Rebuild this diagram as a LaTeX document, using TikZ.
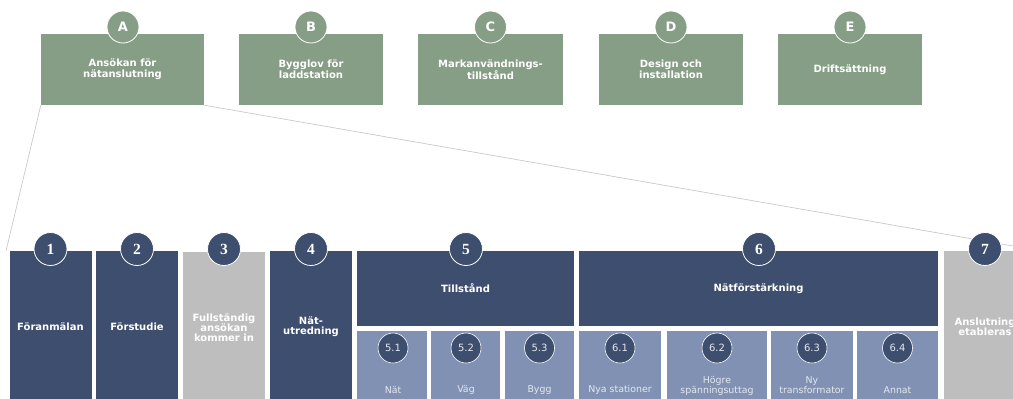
\documentclass[tikz,border=0pt]{standalone}
\usepackage{fontspec}
\setmainfont{DejaVu Sans}
\newfontfamily\numfont{Liberation Serif}
\definecolor{sage}{HTML}{859E85}
\definecolor{navy}{HTML}{3E4E6E}
\definecolor{slate}{HTML}{8091B4}
\definecolor{stone}{HTML}{BEBEBE}
\definecolor{funnel}{HTML}{CACACA}
\definecolor{pale}{HTML}{E4E8F0}
\tikzset{
  phasebox/.style={fill=sage, inner sep=0pt, minimum height=71pt, text=white, align=center,
    font=\bfseries\fontsize{10}{11}\selectfont},
  phasedot/.style={circle, fill=sage, draw=white, line width=0.8pt, minimum size=32pt, inner sep=0pt,
    text=white, font=\bfseries\fontsize{13}{13}\selectfont},
  stepbox/.style={fill=navy, inner sep=0pt, minimum width=82pt, minimum height=152pt, text=white,
    align=center, font=\bfseries\fontsize{10}{10}\selectfont},
  stepdot/.style={circle, fill=navy, draw=white, line width=0.8pt, minimum size=33pt, inner sep=0pt,
    text=white, font=\numfont\bfseries\fontsize{15.5}{15.5}\selectfont},
  subbox/.style={fill=slate, inner sep=0pt, minimum height=72pt},
  subdot/.style={circle, fill=navy, draw=white, line width=0.6pt, minimum size=30pt, inner sep=0pt,
    text=pale, font=\fontsize{10}{10}\selectfont},
  sublabel/.style={inner sep=0pt, text=pale, align=center, font=\fontsize{9.4}{10}\selectfont}
}
\begin{document}
\begin{tikzpicture}[x=1pt,y=-1pt]
\clip (0,0) rectangle (1013,399);
\fill[white] (0,0) rectangle (1013,399);

% phases
\node[phasebox, minimum width=163pt] (A) at (122.5,69.5) {Ansökan för\\nätanslutning};
\node[phasebox, minimum width=144pt] (B) at (311,69.5) {Bygglov för\\laddstation};
\node[phasebox, minimum width=145pt] (C) at (490.5,69.5) {Markanvändnings-\\tillstånd};
\node[phasebox, minimum width=144pt] (D) at (671,69.5) {Design och\\installation};
\node[phasebox, minimum width=144pt] (E) at (850,69.5) {Driftsättning};
\node[phasedot] (dA) at (123,27) {A};
\node[phasedot] (dB) at (311,27) {B};
\node[phasedot] (dC) at (490.5,27) {C};
\node[phasedot] (dD) at (671,27) {D};
\node[phasedot] (dE) at (850,27) {E};

% zoom lines
\coordinate (fl) at (6,251);
\coordinate (fr) at (1013,246);
\draw[funnel, line width=0.7pt] (A.south west) -- (fl);
\draw[funnel, line width=0.7pt] (A.south east) -- (fr);

% steps
\node[stepbox] (s1) at (50.5,327) {Föranmälan};
\node[stepbox] (s2) at (137,327) {Förstudie};
\node[stepbox, fill=stone] (s3) at (224,328) {Fullständig\\ansökan\\kommer in};
\node[stepbox] (s4) at (311,327) {Nät-\\utredning};
\node[stepbox, minimum width=217pt, minimum height=75pt] (s5) at (465.5,288.5) {Tillstånd};
\node[stepbox, minimum width=359pt, minimum height=75pt] (s6) at (758.5,288.5) {Nätförstärkning};
\node[stepbox, fill=stone] (s7) at (985,327) {Anslutning\\etableras};
\node[stepdot] (d1) at (50.5,249) {1};
\node[stepdot] (d2) at (137,249) {2};
\node[stepdot] (d3) at (224,249) {3};
\node[stepdot] (d4) at (311,249) {4};
\node[stepdot] (d5) at (466,249) {5};
\node[stepdot] (d6) at (759,249) {6};
\node[stepdot] (d7) at (985,249) {7};

% sub steps
\node[subbox, minimum width=70pt] (s51) at (392,367) {};
\node[subbox, minimum width=69pt] (s52) at (465.5,367) {};
\node[subbox, minimum width=69pt] (s53) at (539.5,367) {};
\node[subbox, minimum width=82pt] (s61) at (620,367) {};
\node[subbox, minimum width=100pt] (s62) at (717,367) {};
\node[subbox, minimum width=82pt] (s63) at (812,367) {};
\node[subbox, minimum width=81pt] (s64) at (897.5,367) {};
\node[subdot] (d51) at (393,348) {5.1};
\node[subdot] (d52) at (466,348) {5.2};
\node[subdot] (d53) at (539.5,348) {5.3};
\node[subdot] (d61) at (620,348) {6.1};
\node[subdot] (d62) at (717,348) {6.2};
\node[subdot] (d63) at (812,348) {6.3};
\node[subdot] (d64) at (897.5,348) {6.4};
\node[sublabel] (t51) at (393,390) {Nät};
\node[sublabel] (t52) at (466,390) {Väg};
\node[sublabel] (t53) at (539.5,390) {Bygg};
\node[sublabel] (t61) at (620,390) {Nya stationer};
\node[sublabel] (t62) at (717,385.5) {Högre\\spänningsuttag};
\node[sublabel] (t63) at (812,385.5) {Ny\\transformator};
\node[sublabel] (t64) at (897.5,390) {Annat};
\end{tikzpicture}
\end{document}
